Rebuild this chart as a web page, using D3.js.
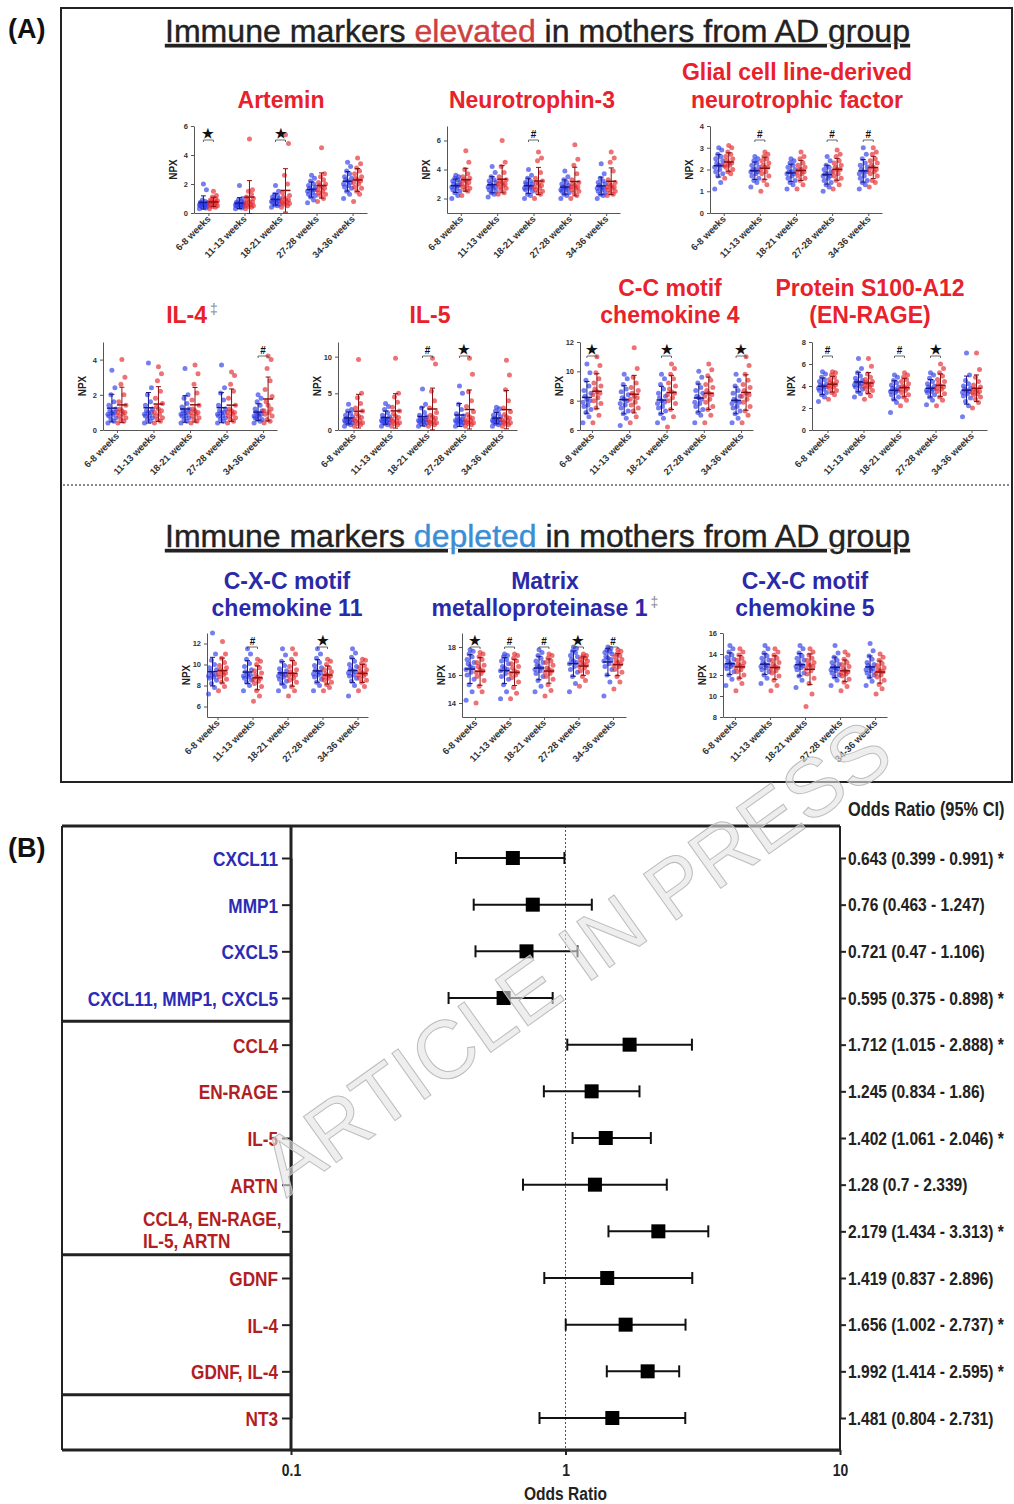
<!DOCTYPE html>
<html>
<head>
<meta charset="utf-8">
<script src="https://cdn.jsdelivr.net/npm/d3@7"></script>
<style>
  body { margin: 0; background: #fff; }
</style>
</head>
<body>
<div id="chart"></div>
<script>
// ---------- panel A data (NPX values, estimated per time point) ----------
var weeks = ['6-8 weeks', '11-13 weeks', '18-21 weeks', '27-28 weeks', '34-36 weeks'];

var artnCtl = [
  [0.3,0.35,0.4,0.45,0.5,0.5,0.55,0.6,0.6,0.65,0.7,0.75,0.8,0.9,1.6,2.0],
  [0.3,0.35,0.4,0.45,0.5,0.5,0.55,0.6,0.6,0.65,0.7,0.75,0.8,0.9,1.0,1.9],
  [0.4,0.5,0.55,0.6,0.7,0.75,0.8,0.85,0.9,0.95,1.0,1.1,1.2,1.3,1.5,1.9],
  [0.7,0.9,1.1,1.2,1.3,1.4,1.5,1.6,1.6,1.7,1.8,1.9,2.0,2.2,2.4,2.6],
  [1.0,1.3,1.5,1.7,1.8,1.9,2.0,2.1,2.2,2.3,2.4,2.5,2.7,2.9,3.2,3.5]];
var artnAD = [
  [0.3,0.4,0.45,0.5,0.55,0.6,0.65,0.7,0.75,0.8,0.85,0.9,1.0,1.1,1.2,1.5],
  [0.3,0.4,0.45,0.5,0.55,0.6,0.7,0.75,0.8,0.9,1.0,1.1,1.3,1.5,1.6,5.1],
  [0.4,0.5,0.6,0.65,0.7,0.8,0.85,0.9,1.0,1.1,1.2,1.4,2.0,2.6,4.8,5.4],
  [0.8,1.0,1.2,1.3,1.4,1.5,1.6,1.7,1.8,1.9,2.0,2.1,2.3,2.5,2.7,4.5],
  [0.8,1.3,1.5,1.7,1.8,2.0,2.1,2.2,2.3,2.4,2.5,2.7,2.9,3.1,3.4,3.8]];
var artnSig = ['star', '', 'star', '', ''];

var nt3Ctl = [
  [2.0,2.2,2.4,2.5,2.6,2.7,2.8,2.9,2.9,3.0,3.1,3.2,3.3,3.4,3.5,3.6],
  [2.1,2.3,2.4,2.5,2.6,2.7,2.8,2.8,2.9,3.0,3.1,3.2,3.3,3.5,3.8,4.2],
  [2.0,2.2,2.3,2.5,2.6,2.7,2.7,2.8,2.9,3.0,3.0,3.1,3.2,3.4,3.6,4.0],
  [2.0,2.2,2.3,2.4,2.5,2.6,2.6,2.7,2.8,2.8,2.9,3.0,3.1,3.3,3.5,3.9],
  [2.0,2.2,2.3,2.4,2.5,2.6,2.7,2.7,2.8,2.9,3.0,3.1,3.2,3.4,3.7,4.4]];
var nt3AD = [
  [2.2,2.5,2.6,2.7,2.8,2.9,3.0,3.1,3.2,3.3,3.4,3.5,3.7,4.0,4.5,5.3],
  [2.3,2.4,2.6,2.7,2.8,2.9,3.0,3.0,3.1,3.2,3.3,3.5,3.8,4.2,4.5,6.0],
  [2.0,2.3,2.4,2.5,2.6,2.7,2.8,2.9,3.0,3.1,3.2,3.4,3.8,4.6,4.8,5.2],
  [2.0,2.2,2.4,2.5,2.6,2.7,2.8,2.8,2.9,3.0,3.1,3.3,3.7,4.3,4.7,5.7],
  [2.2,2.3,2.4,2.5,2.6,2.7,2.8,2.8,2.9,3.0,3.1,3.3,3.9,4.5,4.8,5.2]];
var nt3Sig = ['', '', 'hash', '', ''];

var gdnfCtl = [
  [1.1,1.4,1.7,1.8,1.9,2.0,2.1,2.2,2.2,2.3,2.4,2.5,2.6,2.7,2.9,3.0],
  [1.2,1.4,1.5,1.6,1.7,1.8,1.9,1.9,2.0,2.0,2.1,2.2,2.3,2.4,2.5,2.6],
  [1.1,1.3,1.4,1.5,1.6,1.7,1.8,1.8,1.9,1.9,2.0,2.1,2.2,2.3,2.4,2.5],
  [1.0,1.2,1.3,1.4,1.5,1.6,1.7,1.7,1.8,1.8,1.9,2.0,2.1,2.2,2.4,2.6],
  [1.1,1.3,1.4,1.5,1.6,1.7,1.8,1.9,1.9,2.0,2.1,2.2,2.3,2.5,2.7,3.0]];
var gdnfAD = [
  [1.6,1.8,1.9,2.0,2.1,2.2,2.2,2.3,2.3,2.4,2.5,2.6,2.7,2.8,3.0,3.1],
  [1.0,1.3,1.5,1.7,1.8,1.9,2.0,2.1,2.1,2.2,2.3,2.4,2.5,2.6,2.7,2.8],
  [1.1,1.3,1.5,1.6,1.7,1.8,1.9,1.9,2.0,2.0,2.1,2.2,2.3,2.5,2.6,2.8],
  [1.1,1.3,1.5,1.6,1.7,1.8,1.9,2.0,2.0,2.1,2.2,2.3,2.4,2.6,2.7,2.9],
  [1.2,1.4,1.5,1.7,1.8,1.9,2.0,2.0,2.1,2.2,2.3,2.4,2.5,2.7,2.8,3.0]];
var gdnfSig = ['', 'hash', '', 'hash', 'hash'];

var il4Ctl = [
  [0.4,0.5,0.6,0.7,0.8,0.9,0.9,1.0,1.0,1.1,1.2,1.4,1.6,2.0,2.4,3.4],
  [0.4,0.5,0.6,0.7,0.8,0.8,0.9,1.0,1.0,1.1,1.2,1.4,1.6,2.0,2.4,3.8],
  [0.4,0.5,0.6,0.7,0.8,0.8,0.9,1.0,1.0,1.1,1.2,1.3,1.5,1.8,2.0,3.5],
  [0.4,0.5,0.6,0.7,0.8,0.8,0.9,1.0,1.0,1.1,1.2,1.4,1.7,2.1,2.4,3.7],
  [0.4,0.5,0.6,0.6,0.7,0.8,0.8,0.9,0.9,1.0,1.1,1.2,1.4,1.6,1.8,2.0]];
var il4AD = [
  [0.4,0.5,0.6,0.7,0.8,0.9,1.0,1.0,1.1,1.2,1.4,1.6,2.0,2.6,3.0,4.0],
  [0.4,0.5,0.6,0.7,0.8,0.9,1.0,1.1,1.2,1.3,1.5,1.8,2.2,2.8,3.2,3.6],
  [0.4,0.5,0.6,0.7,0.8,0.9,1.0,1.0,1.1,1.2,1.4,1.7,2.1,2.6,3.2,3.7],
  [0.4,0.5,0.6,0.7,0.8,0.9,1.0,1.0,1.1,1.2,1.4,1.8,2.2,2.6,3.1,3.3],
  [0.4,0.5,0.6,0.8,0.9,1.0,1.1,1.2,1.4,1.6,1.9,2.3,2.8,3.5,4.0,4.2]];
var il4Sig = ['', '', '', '', 'hash'];

var il5Ctl = [
  [0.5,0.7,0.9,1.0,1.1,1.2,1.3,1.4,1.5,1.6,1.8,2.0,2.3,2.6,2.8,3.5],
  [0.5,0.7,0.9,1.0,1.1,1.2,1.3,1.4,1.5,1.6,1.8,2.0,2.4,2.8,3.2,3.6],
  [0.5,0.7,0.9,1.0,1.1,1.2,1.3,1.4,1.5,1.6,1.8,2.0,2.4,3.0,3.5,5.6],
  [0.5,0.7,0.9,1.0,1.1,1.2,1.3,1.4,1.5,1.7,1.9,2.2,2.8,3.5,5.0,6.0],
  [0.5,0.7,0.9,1.0,1.1,1.2,1.3,1.4,1.5,1.6,1.8,2.0,2.3,2.6,2.9,3.1]];
var il5AD = [
  [0.5,0.7,0.9,1.0,1.2,1.3,1.5,1.7,1.9,2.2,2.6,3.0,3.6,4.4,5.0,9.6],
  [0.5,0.7,0.9,1.0,1.2,1.3,1.5,1.7,1.9,2.2,2.6,3.1,3.8,4.5,5.0,9.8],
  [0.5,0.7,0.9,1.0,1.1,1.3,1.4,1.6,1.8,2.0,2.4,3.0,4.0,5.3,9.0,9.8],
  [0.5,0.7,0.9,1.0,1.1,1.3,1.4,1.6,1.8,2.1,2.5,3.2,4.0,5.2,7.6,9.8],
  [0.5,0.7,0.9,1.0,1.1,1.3,1.4,1.6,1.8,2.1,2.5,3.0,4.0,5.5,7.5,9.5]];
var il5Sig = ['', '', 'hash', 'star', ''];

var ccl4Ctl = [
  [6.5,6.9,7.2,7.4,7.6,7.7,7.9,8.0,8.1,8.3,8.5,8.7,9.0,9.4,9.9,10.5],
  [6.3,6.8,7.1,7.3,7.5,7.7,7.8,8.0,8.1,8.2,8.4,8.6,8.8,9.1,9.5,9.8],
  [6.5,6.8,7.1,7.3,7.5,7.6,7.8,7.9,8.0,8.2,8.3,8.5,8.8,9.1,9.5,9.8],
  [6.5,7.0,7.2,7.4,7.6,7.8,7.9,8.1,8.2,8.3,8.5,8.7,8.9,9.2,9.6,10.0],
  [6.5,6.8,7.1,7.3,7.5,7.6,7.8,7.9,8.0,8.1,8.3,8.5,8.7,9.0,9.4,9.8]];
var ccl4AD = [
  [6.5,7.0,7.5,7.8,8.0,8.2,8.4,8.5,8.6,8.8,9.0,9.2,9.5,9.9,10.4,11.0],
  [6.5,6.9,7.3,7.5,7.7,7.9,8.1,8.2,8.3,8.5,8.7,8.9,9.2,9.6,10.2,11.6],
  [6.2,6.9,7.4,7.8,8.0,8.2,8.4,8.5,8.6,8.8,9.0,9.2,9.5,9.8,10.2,10.5],
  [6.5,7.0,7.4,7.6,7.9,8.1,8.3,8.4,8.5,8.7,8.9,9.1,9.4,9.7,10.1,10.5],
  [6.5,7.0,7.3,7.6,7.9,8.1,8.3,8.4,8.5,8.7,8.9,9.1,9.4,9.8,10.4,11.0]];
var ccl4Sig = ['star', '', 'star', '', 'star'];

var enrageCtl = [
  [2.6,3.0,3.2,3.4,3.6,3.7,3.8,3.9,4.0,4.1,4.2,4.4,4.6,4.8,5.1,5.3],
  [3.0,3.3,3.5,3.7,3.9,4.0,4.1,4.2,4.3,4.4,4.5,4.7,4.9,5.2,5.6,6.5],
  [1.6,2.5,2.8,3.0,3.2,3.4,3.5,3.6,3.7,3.8,3.9,4.1,4.3,4.5,4.8,5.0],
  [2.3,2.7,3.0,3.2,3.4,3.5,3.6,3.7,3.8,3.9,4.0,4.2,4.4,4.7,5.0,5.2],
  [1.2,2.2,2.6,2.9,3.1,3.3,3.4,3.5,3.6,3.7,3.8,4.0,4.2,4.5,5.0,7.0]];
var enrageAD = [
  [2.8,3.2,3.4,3.6,3.8,3.9,4.0,4.1,4.2,4.3,4.4,4.6,4.8,5.0,5.2,5.3],
  [2.8,3.1,3.4,3.6,3.8,3.9,4.0,4.1,4.2,4.3,4.4,4.6,4.8,5.1,5.8,6.5],
  [2.2,2.7,3.0,3.2,3.4,3.6,3.7,3.8,3.9,4.0,4.2,4.4,4.6,4.8,5.0,5.2],
  [2.2,2.7,3.0,3.3,3.5,3.7,3.8,3.9,4.0,4.2,4.4,4.6,4.9,5.2,5.6,6.0],
  [2.0,2.5,2.8,3.0,3.2,3.3,3.4,3.5,3.6,3.7,3.9,4.1,4.4,4.8,5.5,7.0]];
var enrageSig = ['hash', '', 'hash', 'star', ''];

var cxcl11Ctl = [
  [7.2,7.8,8.2,8.5,8.7,8.8,8.9,9.0,9.1,9.3,9.5,9.7,10.0,10.4,11.0,13.0],
  [7.5,8.0,8.3,8.5,8.7,8.8,8.9,9.0,9.1,9.3,9.5,9.8,10.1,10.5,11.0,11.5],
  [7.5,7.9,8.2,8.4,8.6,8.8,8.9,9.0,9.1,9.2,9.4,9.6,9.9,10.3,10.9,11.5],
  [7.5,8.0,8.3,8.6,8.8,9.0,9.1,9.2,9.3,9.5,9.7,9.9,10.2,10.6,11.0,11.5],
  [7.0,8.0,8.4,8.7,8.9,9.0,9.2,9.3,9.4,9.6,9.8,10.0,10.3,10.7,11.1,11.5]];
var cxcl11AD = [
  [7.5,7.9,8.3,8.6,8.8,9.0,9.1,9.2,9.3,9.5,9.7,9.9,10.2,10.6,11.0,12.2],
  [6.5,7.0,7.5,7.9,8.2,8.4,8.6,8.7,8.8,9.0,9.2,9.4,9.7,10.0,10.3,10.5],
  [7.0,7.5,7.9,8.3,8.5,8.7,8.9,9.0,9.1,9.3,9.5,9.8,10.1,10.5,11.0,11.5],
  [7.5,7.8,8.1,8.3,8.5,8.7,8.8,8.9,9.0,9.1,9.3,9.5,9.7,10.0,10.3,10.5],
  [7.5,7.9,8.3,8.5,8.7,8.9,9.0,9.1,9.2,9.3,9.5,9.7,9.9,10.1,10.4,10.5]];
var cxcl11Sig = ['', 'hash', '', 'star', ''];

var mmp1Ctl = [
  [14.2,14.8,15.3,15.7,16.0,16.2,16.4,16.5,16.6,16.8,16.9,17.1,17.3,17.5,17.7,17.8],
  [14.3,14.8,15.3,15.7,15.9,16.1,16.3,16.4,16.5,16.6,16.8,17.0,17.1,17.3,17.4,17.5],
  [14.8,15.2,15.6,15.9,16.1,16.3,16.4,16.5,16.6,16.7,16.9,17.0,17.2,17.4,17.6,17.8],
  [14.8,15.4,15.9,16.2,16.4,16.6,16.8,16.9,17.0,17.1,17.3,17.4,17.6,17.7,17.9,18.0],
  [14.5,15.5,16.0,16.4,16.6,16.8,17.0,17.1,17.2,17.3,17.5,17.6,17.7,17.8,17.9,18.0]];
var mmp1AD = [
  [14.0,14.8,15.2,15.6,15.9,16.1,16.2,16.3,16.4,16.6,16.7,16.9,17.1,17.3,17.5,17.6],
  [14.3,14.7,15.1,15.5,15.8,16.0,16.1,16.2,16.3,16.5,16.6,16.8,17.0,17.2,17.4,17.5],
  [14.5,14.9,15.3,15.7,15.9,16.1,16.2,16.3,16.4,16.5,16.7,16.9,17.0,17.2,17.4,17.5],
  [15.2,15.6,15.9,16.2,16.3,16.5,16.6,16.7,16.8,16.9,17.0,17.1,17.2,17.3,17.4,17.5],
  [15.0,15.5,15.9,16.2,16.4,16.6,16.7,16.8,16.9,17.0,17.1,17.3,17.4,17.5,17.7,17.8]];
var mmp1Sig = ['star', 'hash', 'hash', 'star', 'hash'];

var cxcl5Ctl = [
  [11.0,11.6,12.0,12.3,12.6,12.8,12.9,13.0,13.1,13.3,13.5,13.7,13.9,14.2,14.5,14.8],
  [11.2,11.7,12.0,12.3,12.5,12.7,12.8,12.9,13.0,13.2,13.4,13.6,13.8,14.1,14.5,14.8],
  [10.8,11.5,11.9,12.2,12.5,12.7,12.8,12.9,13.0,13.2,13.4,13.6,13.8,14.1,14.5,14.8],
  [11.0,11.5,11.8,12.0,12.2,12.4,12.5,12.6,12.7,12.8,13.0,13.2,13.4,13.7,14.1,14.8],
  [11.0,11.4,11.8,12.0,12.2,12.4,12.5,12.6,12.7,12.9,13.0,13.2,13.5,13.8,14.3,15.0]];
var cxcl5AD = [
  [10.5,11.2,11.7,12.0,12.3,12.5,12.7,12.8,12.9,13.0,13.2,13.4,13.6,13.9,14.2,14.5],
  [10.5,11.0,11.5,11.9,12.2,12.4,12.6,12.7,12.8,13.0,13.2,13.4,13.6,13.9,14.2,14.5],
  [9.0,10.2,11.2,11.7,12.1,12.4,12.6,12.8,12.9,13.0,13.2,13.4,13.6,13.9,14.2,14.5],
  [10.5,10.9,11.3,11.6,11.9,12.1,12.2,12.3,12.4,12.6,12.8,13.0,13.2,13.5,13.9,14.2],
  [10.2,10.7,11.1,11.5,11.8,12.0,12.2,12.3,12.4,12.5,12.7,12.9,13.1,13.4,13.7,14.0]];
var cxcl5Sig = ['', '', '', '', ''];

// ---------- panel B data (odds ratios, 95% CI) ----------
var orLabels = ['CXCL11', 'MMP1', 'CXCL5', 'CXCL11, MMP1, CXCL5', 'CCL4', 'EN-RAGE', 'IL-5', 'ARTN',
  'CCL4, EN-RAGE,|IL-5, ARTN', 'GDNF', 'IL-4', 'GDNF, IL-4', 'NT3'];
var orValues = [0.643, 0.76, 0.721, 0.595, 1.712, 1.245, 1.402, 1.28, 2.179, 1.419, 1.656, 1.992, 1.481];
var orLow = [0.399, 0.463, 0.47, 0.375, 1.015, 0.834, 1.061, 0.7, 1.434, 0.837, 1.002, 1.414, 0.804];
var orHigh = [0.991, 1.247, 1.106, 0.898, 2.888, 1.86, 2.046, 2.339, 3.313, 2.896, 2.737, 2.595, 2.731];
var orSig = [true, false, false, true, true, false, true, false, true, false, true, true, false];
var orDepleted = [true, true, true, true, false, false, false, false, false, false, false, false, false];
var orBreaks = [3, 8, 11];   // group separators after these rows
var orTicks = [0.1, 1, 10];

// ---------- drawing ----------
var SANS = "'Liberation Sans', Arial, sans-serif";
var SQ = 0.82;   // horizontal squeeze to imitate a narrow face
var RED_T = '#e8212b', BLUE_T = '#2a2aa8';
var C_BLUE = '#2b3be6', C_RED = '#e3262b';

var svg = d3.select('#chart').append('svg')
  .attr('width', 1014)
  .attr('height', 1504)
  .style('background', '#fff')
  .style('font-family', SANS);

// squeezed text helper: x is in page pixels
function narrowText(sel, x, size) {
  return sel.attr('x', x / SQ).attr('transform', 'scale(' + SQ + ',1)')
    .style('font-size', size + 'px').style('font-weight', 'bold');
}

// panel labels
svg.append('text').attr('x', 8).attr('y', 38).text('(A)')
  .style('font-size', '27px').style('font-weight', 'bold').attr('fill', '#111');
svg.append('text').attr('x', 8).attr('y', 857).text('(B)')
  .style('font-size', '27px').style('font-weight', 'bold').attr('fill', '#111');

// panel A frame + separator
svg.append('rect').attr('x', 61).attr('y', 8).attr('width', 951).attr('height', 774)
  .attr('fill', 'none').attr('stroke', '#222').attr('stroke-width', 2);
svg.append('line').attr('x1', 63).attr('x2', 1010).attr('y1', 485).attr('y2', 485)
  .attr('stroke', '#888').attr('stroke-width', 2).attr('stroke-dasharray', '2,2');

// section headings
var headings = [
  {y: 42, word: 'elevated', color: '#cf3f3f'},
  {y: 547, word: 'depleted', color: '#3b8dd4'}
];
headings.forEach(function(h){
  var t = svg.append('text').attr('x', 165).attr('y', h.y)
    .attr('textLength', 745).attr('lengthAdjust', 'spacingAndGlyphs')
    .style('font-size', '32px')
    .style('text-decoration', 'underline').attr('fill', '#222')
    .attr('stroke', '#222').attr('stroke-width', 0.4);
  t.append('tspan').text('Immune markers ');
  t.append('tspan').text(h.word).attr('fill', h.color).attr('stroke', h.color);
  t.append('tspan').text(' in mothers from AD group');
});

// the ten scatter panels
var jitter = [-4, 2, -1, 4, -3, 1, -4, 3, 0, -2, 4, -3, 2, -1, 3, 0];

var panels = [
  {title: ['Artemin'], tc: RED_T, tx: 281, ty: [108], ctl: artnCtl, ad: artnAD, sig: artnSig,
   x: 194, y: 126, w: 173, h: 87, pad: 0.4, dom: [0, 6], ticks: [0, 2, 4, 6]},
  {title: ['Neurotrophin-3'], tc: RED_T, tx: 532, ty: [108], ctl: nt3Ctl, ad: nt3AD, sig: nt3Sig,
   x: 447, y: 126, w: 173, h: 87, pad: 0.38, dom: [1, 7], ticks: [2, 4, 6]},
  {title: ['Glial cell line-derived', 'neurotrophic factor'], tc: RED_T, tx: 797, ty: [80, 108],
   ctl: gdnfCtl, ad: gdnfAD, sig: gdnfSig,
   x: 710, y: 126, w: 172, h: 87, pad: 0.38, dom: [0, 4], ticks: [0, 1, 2, 3, 4]},
  {title: ['IL-4'], dagger: true, tc: RED_T, tx: 192, ty: [323], ctl: il4Ctl, ad: il4AD, sig: il4Sig,
   x: 103, y: 342, w: 174, h: 88, pad: 0.38, dom: [0, 5], ticks: [0, 2, 4]},
  {title: ['IL-5'], tc: RED_T, tx: 430, ty: [323], ctl: il5Ctl, ad: il5AD, sig: il5Sig,
   x: 338, y: 342, w: 179, h: 88, pad: 0.42, dom: [0, 12], ticks: [0, 5, 10]},
  {title: ['C-C motif', 'chemokine 4'], tc: RED_T, tx: 670, ty: [296, 323], ctl: ccl4Ctl, ad: ccl4AD, sig: ccl4Sig,
   x: 580, y: 342, w: 173, h: 88, pad: 0.32, dom: [6, 12], ticks: [6, 8, 10, 12]},
  {title: ['Protein S100-A12', '(EN-RAGE)'], tc: RED_T, tx: 870, ty: [296, 323], ctl: enrageCtl, ad: enrageAD, sig: enrageSig,
   x: 812, y: 342, w: 175, h: 88, pad: 0.43, dom: [0, 8], ticks: [0, 2, 4, 6, 8]},
  {title: ['C-X-C motif', 'chemokine 11'], tc: BLUE_T, tx: 287, ty: [589, 616], ctl: cxcl11Ctl, ad: cxcl11AD, sig: cxcl11Sig,
   x: 207, y: 633, w: 161, h: 84, pad: 0.3, dom: [5, 13], ticks: [6, 8, 10, 12]},
  {title: ['Matrix', 'metalloproteinase 1'], dagger: true, tc: BLUE_T, tx: 545, ty: [589, 616],
   ctl: mmp1Ctl, ad: mmp1AD, sig: mmp1Sig,
   x: 462, y: 633, w: 164, h: 84, pad: 0.38, dom: [13, 19], ticks: [14, 16, 18]},
  {title: ['C-X-C motif', 'chemokine 5'], tc: BLUE_T, tx: 805, ty: [589, 616], ctl: cxcl5Ctl, ad: cxcl5AD, sig: cxcl5Sig,
   x: 723, y: 633, w: 164, h: 84, pad: 0.34, dom: [8, 16], ticks: [8, 10, 12, 14, 16]}
];

panels.forEach(function(p){
  var g = svg.append('g');
  var x = d3.scalePoint().domain(weeks).range([p.x, p.x + p.w]).padding(p.pad);
  var y = d3.scaleLinear().domain(p.dom).range([p.y + p.h, p.y]);

  // title
  var tt = g.append('text').attr('text-anchor', 'middle').attr('fill', p.tc)
    .style('font-size', '23px').style('font-weight', 'bold');
  p.title.forEach(function(line, i){
    tt.append('tspan').attr('x', p.tx).attr('y', p.ty[i]).text(line);
    if (p.dagger && i == p.title.length - 1) {
      tt.append('tspan').attr('dx', 3).attr('dy', -9).text('\u2021')
        .attr('fill', '#8a8a8a').style('font-size', '14px').style('font-weight', 'normal');
    }
  });

  // axes
  var xa = g.append('g').attr('transform', 'translate(0,' + (p.y + p.h) + ')')
    .call(d3.axisBottom(x).tickSize(3).tickSizeOuter(0));
  xa.selectAll('text')
    .attr('x', -3).attr('y', 3).attr('dy', '0.35em')
    .attr('transform', 'rotate(-45)')
    .style('text-anchor', 'end')
    .style('font-size', '9.5px').style('font-weight', 'bold').attr('fill', '#333');

  var ya = g.append('g').attr('transform', 'translate(' + p.x + ',0)')
    .call(d3.axisLeft(y).tickValues(p.ticks).tickSize(3).tickSizeOuter(0).tickFormat(d3.format('d')));
  ya.selectAll('text').style('font-size', '7.5px').style('font-weight', 'bold').attr('fill', '#333');
  g.selectAll('.domain, .tick line').attr('stroke', '#555');

  g.append('text').attr('transform', 'translate(' + (p.x - 17) + ',' + (p.y + p.h / 2) + ') rotate(-90)')
    .attr('text-anchor', 'middle').text('NPX')
    .style('font-size', '10px').style('font-weight', 'bold').attr('fill', '#222');

  // clouds of points, mean and SD
  [[p.ctl, -5, C_BLUE, '#18188a'], [p.ad, 5, C_RED, '#8c1010']].forEach(function(s){
    s[0].forEach(function(vals, gi){
      var cx = x(weeks[gi]) + s[1];
      g.selectAll(null).data(vals).enter().append('circle')
        .attr('cx', function(d, i){ return cx + jitter[i % jitter.length]; })
        .attr('cy', function(d){ return y(d); })
        .attr('r', 2.5)
        .attr('fill', s[2]).attr('fill-opacity', 0.65);
      var m = d3.mean(vals), sd = d3.deviation(vals);
      g.append('line').attr('x1', cx - 5).attr('x2', cx + 5).attr('y1', y(m)).attr('y2', y(m))
        .attr('stroke', s[3]).attr('stroke-width', 1.5);
      g.append('line').attr('x1', cx).attr('x2', cx).attr('y1', y(m - sd)).attr('y2', y(m + sd))
        .attr('stroke', s[3]).attr('stroke-width', 1);
      [m - sd, m + sd].forEach(function(v){
        g.append('line').attr('x1', cx - 2.5).attr('x2', cx + 2.5).attr('y1', y(v)).attr('y2', y(v))
          .attr('stroke', s[3]).attr('stroke-width', 1);
      });
    });
  });

  // significance marks
  p.sig.forEach(function(s, gi){
    if (!s) return;
    var cx = x(weeks[gi]), by = p.y + 14;
    g.append('path').attr('d', 'M' + (cx - 5) + ',' + (by + 2) + 'V' + by + 'H' + (cx + 5) + 'V' + (by + 2))
      .attr('fill', 'none').attr('stroke', '#444').attr('stroke-width', 0.8);
    g.append('text').attr('x', cx).attr('y', by - 2).attr('text-anchor', 'middle')
      .text(s == 'star' ? '\u2605' : '#')
      .style('font-size', s == 'star' ? '13px' : '10px').style('font-weight', 'bold').attr('fill', '#111');
  });
});

// ---------- panel B: forest plot ----------
var fx = d3.scaleLog().domain([0.1, 10]).range([291, 840]);
var fy = d3.scalePoint().domain(d3.range(orLabels.length)).range([858, 1418]);
var fTop = 826, fBottom = 1450, fLeft = 62;
var fg = svg.append('g');

narrowText(fg.append('text').attr('y', 816).text('Odds Ratio (95% CI)'), 848, 20).attr('fill', '#222');

// dotted reference at OR = 1
fg.append('line').attr('x1', fx(1)).attr('x2', fx(1)).attr('y1', fTop).attr('y2', fBottom)
  .attr('stroke', '#555').attr('stroke-width', 1).attr('stroke-dasharray', '2,2');

// left axis with row labels
var la = fg.append('g').attr('transform', 'translate(291,0)')
  .call(d3.axisLeft(fy).tickSize(9).tickSizeOuter(0).tickFormat(''));
la.selectAll('.tick').each(function(i){
  var parts = orLabels[i].split('|');
  var t = d3.select(this).append('text')
    .attr('fill', orDepleted[i] ? '#2b2bb5' : '#b11e23')
    .attr('transform', 'scale(' + SQ + ',1)')
    .style('font-size', '21px').style('font-weight', 'bold');
  if (parts.length == 1) {
    t.attr('x', -13 / SQ).attr('dy', '0.35em').attr('text-anchor', 'end').text(parts[0]);
  } else {
    t.attr('text-anchor', 'start');
    parts.forEach(function(pt, k){
      t.append('tspan').attr('x', -148 / SQ).attr('y', k == 0 ? -6 : 16).text(pt);
    });
  }
});

// right axis with CI text
var ra = fg.append('g').attr('transform', 'translate(840,0)')
  .call(d3.axisRight(fy).tickSize(6).tickSizeOuter(0).tickFormat(function(i){
    return orValues[i] + ' (' + orLow[i] + ' - ' + orHigh[i] + ')' + (orSig[i] ? ' *' : '');
  }));
ra.selectAll('text').each(function(){ narrowText(d3.select(this), 8, 19).attr('fill', '#222'); });

// bottom axis
var ba = fg.append('g').attr('transform', 'translate(0,' + fBottom + ')')
  .call(d3.axisBottom(fx).tickValues(orTicks).tickSize(5).tickSizeOuter(0).tickFormat(d3.format('')));
ba.selectAll('text').attr('y', 14).each(function(){ narrowText(d3.select(this), 0, 17).attr('fill', '#222'); });
narrowText(fg.append('text').attr('y', 1500).attr('text-anchor', 'middle').text('Odds Ratio'), fx(1), 19)
  .attr('fill', '#222');

fg.selectAll('.domain, .tick line').attr('stroke', '#222').attr('stroke-width', 2);

// frame and group separators
fg.append('line').attr('x1', fLeft).attr('x2', 840).attr('y1', fTop).attr('y2', fTop).attr('stroke', '#222').attr('stroke-width', 3);
fg.append('line').attr('x1', fLeft).attr('x2', 840).attr('y1', fBottom).attr('y2', fBottom).attr('stroke', '#222').attr('stroke-width', 3);
fg.append('line').attr('x1', fLeft).attr('x2', fLeft).attr('y1', fTop).attr('y2', fBottom).attr('stroke', '#222').attr('stroke-width', 2);
fg.append('line').attr('x1', 291).attr('x2', 291).attr('y1', fTop).attr('y2', fBottom).attr('stroke', '#222').attr('stroke-width', 3);
fg.append('line').attr('x1', 840).attr('x2', 840).attr('y1', fTop).attr('y2', fBottom).attr('stroke', '#222').attr('stroke-width', 2);
orBreaks.forEach(function(b){
  var yy = (fy(b) + fy(b + 1)) / 2;
  fg.append('line').attr('x1', fLeft).attr('x2', 291).attr('y1', yy).attr('y2', yy).attr('stroke', '#222').attr('stroke-width', 3);
});

// CI whiskers and squares
var rows = fg.selectAll('.row').data(d3.range(orLabels.length)).enter().append('g');
rows.append('line')
  .attr('x1', function(i){ return fx(orLow[i]); }).attr('x2', function(i){ return fx(orHigh[i]); })
  .attr('y1', function(i){ return fy(i); }).attr('y2', function(i){ return fy(i); })
  .attr('stroke', '#111').attr('stroke-width', 2);
[orLow, orHigh].forEach(function(arr){
  rows.append('line')
    .attr('x1', function(i){ return fx(arr[i]); }).attr('x2', function(i){ return fx(arr[i]); })
    .attr('y1', function(i){ return fy(i) - 6; }).attr('y2', function(i){ return fy(i) + 6; })
    .attr('stroke', '#111').attr('stroke-width', 2);
});
rows.append('rect')
  .attr('x', function(i){ return fx(orValues[i]) - 7; }).attr('y', function(i){ return fy(i) - 7; })
  .attr('width', 14).attr('height', 14).attr('fill', '#000');

// watermark
svg.append('text')
  .attr('transform', 'translate(575,957) rotate(-35.5)')
  .attr('text-anchor', 'middle').attr('dy', '0.35em')
  .text('ARTICLE IN PRESS')
  .style('font-size', '82px')
  .attr('fill', '#e2e2e2').attr('fill-opacity', 0.6)
  .attr('stroke', '#bdbdbd').attr('stroke-width', 1);
</script>
</body>
</html>
